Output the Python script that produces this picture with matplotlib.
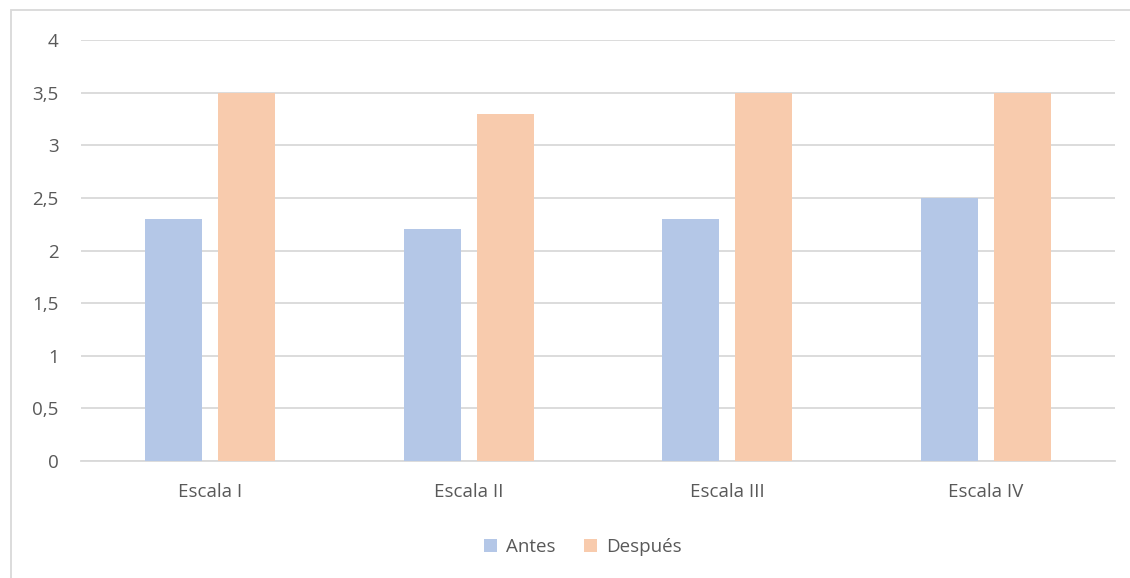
import numpy as np
import matplotlib.pyplot as plt
from matplotlib.patches import Rectangle

# Data
categories = ["Escala I", "Escala II", "Escala III", "Escala IV"]
antes = [2.3, 2.2, 2.3, 2.5]
despues = [3.5, 3.3, 3.5, 3.5]
y_ticks = [0, 0.5, 1, 1.5, 2, 2.5, 3, 3.5, 4]
y_tick_labels = ["0", "0,5", "1", "1,5", "2", "2,5", "3", "3,5", "4"]

plt.rcParams['font.family'] = ['Open Sans', 'DejaVu Sans']
text_color = "#595959"
grid_color = "#D9D9D9"

W, H = 1130, 578
fig = plt.figure(figsize=(W / 100, H / 100), dpi=100)
ax = fig.add_axes([81 / W, 1 - 461 / H, (1115 - 81) / W, (461 - 40) / H])

x = np.arange(len(categories))
width = 0.22
ax.bar(x - 0.141, antes, width, color="#B4C7E7", label="Antes", zorder=3)
ax.bar(x + 0.141, despues, width, color="#F8CBAD", label="Después", zorder=3)

ax.set_xlim(-0.5, len(categories) - 0.5)
ax.set_ylim(0, 4)
ax.set_yticks(y_ticks)
ax.set_yticklabels(y_tick_labels)
ax.set_xticks(x)
ax.set_xticklabels(categories)
ax.yaxis.grid(True, color=grid_color, linewidth=1.3, zorder=0)
ax.tick_params(axis="both", length=0, labelsize=13.5, colors=text_color)
ax.tick_params(axis="y", pad=16)
ax.tick_params(axis="x", pad=16)
for side in ["top", "right", "left"]:
    ax.spines[side].set_visible(False)
ax.spines["bottom"].set_color(grid_color)
ax.spines["bottom"].set_linewidth(1.3)

# Chart border (only top and left fall inside the image)
fig.patches.append(Rectangle((11 / W, -0.1), 1.2, 1 - 10 / H + 0.1,
                             transform=fig.transFigure, fill=False,
                             edgecolor=grid_color, linewidth=1.3))

fig.legend(loc="center", bbox_to_anchor=(583 / W, 1 - 547 / H), ncol=2,
           frameon=False, fontsize=13.5, labelcolor=text_color,
           handlelength=0.7, handleheight=0.7, handletextpad=0.5,
           columnspacing=1.5)

fig.savefig("out.png", dpi=100)
